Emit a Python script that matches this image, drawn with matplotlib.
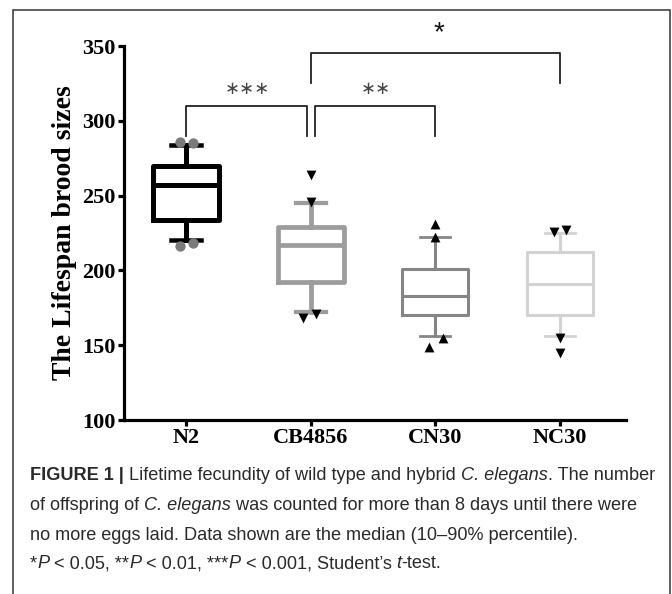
import matplotlib
matplotlib.use("Agg")
import matplotlib.pyplot as plt
from matplotlib.patches import Rectangle

# data
groups = ["N2", "CB4856", "CN30", "NC30"]
q1 = [234, 192, 170, 170]
med = [257, 217, 183, 191]
q3 = [270, 229, 201, 212]
whislo = [220, 172, 156, 156]
whishi = [284, 245, 222, 225]
outliers = [[286, 285, 216, 218],
            [264, 246, 168, 171],
            [231, 222, 149, 155],
            [226, 227, 155, 145]]
# horizontal jitter of the outlier symbols (layout only)
jitter = [[-0.05, 0.05, -0.05, 0.05],
          [0.0, 0.0, -0.06, 0.04],
          [0.0, 0.0, -0.05, 0.06],
          [-0.05, 0.05, 0.0, 0.0]]
colors = ["#000000", "#9c9c9c", "#858585", "#d2d2d2"]
lws = [3.6, 3.4, 2.2, 2.2]
markers = ["o", "v", "^", "v"]
mcolors = ["#7a7a7a", "k", "k", "k"]

fig = plt.figure(figsize=(6.72, 5.94), dpi=100)
ax = fig.add_axes([124 / 672, 1 - 420 / 594, 502 / 672, 374 / 594])

stats = []
for i in range(len(groups)):
    stats.append(dict(q1=q1[i], med=med[i], q3=q3[i],
                      whislo=whislo[i], whishi=whishi[i], fliers=[]))

for i in range(len(groups)):
    c = colors[i]
    lw = lws[i]
    ax.bxp([stats[i]], positions=[i], widths=0.53, showfliers=False,
           boxprops=dict(color=c, linewidth=lw),
           medianprops=dict(color=c, linewidth=lw),
           whiskerprops=dict(color=c, linewidth=lw),
           capprops=dict(color=c, linewidth=lw * 0.9),
           capwidths=0.24)
    xs = [i + d for d in jitter[i]]
    ax.scatter(xs, outliers[i], marker=markers[i], s=55 if markers[i] == "o" else 50,
               color=mcolors[i], zorder=5, linewidths=0)

ax.set_xlim(-0.5, 3.53)
ax.set_ylim(100, 350)
ax.set_yticks([100, 150, 200, 250, 300, 350])
ax.set_xticks(range(len(groups)))
ax.set_xticklabels(groups)
for s in ["top", "right"]:
    ax.spines[s].set_visible(False)
for s in ["left", "bottom"]:
    ax.spines[s].set_linewidth(2.3)
ax.tick_params(axis="both", width=2.3, length=4, pad=2)
for lab in ax.get_xticklabels() + ax.get_yticklabels():
    lab.set_fontfamily("Liberation Serif")
    lab.set_fontweight("bold")
    lab.set_fontsize(16)
ax.set_ylabel("The Lifespan brood sizes", fontfamily="Liberation Serif",
              fontweight="bold", fontsize=20, labelpad=4)

# significance brackets
bk = dict(color="#222222", linewidth=1.3, clip_on=False)
ax.plot([0, 0, 0.97, 0.97], [290, 310, 310, 290], **bk)
ax.plot([1.03, 1.03, 2.0, 2.0], [290, 310, 310, 290], **bk)
ax.plot([1.0, 1.0, 3.0, 3.0], [325, 345.5, 345.5, 325], **bk)
ax.text(0.49, 321, "\u2217\u2217\u2217", ha="center", va="center", fontsize=13,
        color="#444444", fontfamily="DejaVu Sans")
ax.text(1.52, 321, "\u2217\u2217", ha="center", va="center", fontsize=13,
        color="#444444", fontfamily="DejaVu Sans")
ax.text(2.03, 358.5, "*", ha="center", va="center", fontsize=20,
        color="#111111", fontfamily="Liberation Sans", clip_on=False)

# frame around the figure panel
fig.patches.append(Rectangle((13 / 672, -0.05), (670 - 13) / 672, 1.05 - 10 / 594,
                             transform=fig.transFigure, fill=False,
                             edgecolor="#444444", linewidth=1.2))

# caption with mixed styles
cap_lines = [
    [("FIGURE 1 | ", "normal", "bold"), ("Lifetime fecundity of wild type and hybrid ", "normal", "normal"),
     ("C. elegans", "italic", "normal"), (". The number", "normal", "normal")],
    [("of offspring of ", "normal", "normal"), ("C. elegans", "italic", "normal"),
     (" was counted for more than 8 days until there were", "normal", "normal")],
    [("no more eggs laid. Data shown are the median (10\u201390% percentile).", "normal", "normal")],
    [("*", "normal", "normal"), ("P", "italic", "normal"), (" < 0.05, **", "normal", "normal"),
     ("P", "italic", "normal"), (" < 0.01, ***", "normal", "normal"), ("P", "italic", "normal"),
     (" < 0.001, Student\u2019s ", "normal", "normal"), ("t", "italic", "normal"),
     ("-test.", "normal", "normal")],
]
cap_y = [476, 506, 535, 564]
renderer = fig.canvas.get_renderer()
W = fig.bbox.width


def draw_line(parts, yy, size):
    x = 30 / W
    texts = []
    for txt, style, weight in parts:
        t = fig.text(x, 1 - yy / 594, txt, fontsize=size, fontfamily="Liberation Sans",
                     fontstyle=style, fontweight=weight, color="#2a2a2a", va="center")
        x += t.get_window_extent(renderer).width / W
        texts.append(t)
    return texts, x * W


# fit the first caption line to the reference width
tmp, right = draw_line(cap_lines[0], cap_y[0], 12)
for t in tmp:
    t.remove()
cap_size = 12 * (654 - 30) / (right - 30)

for parts, yy in zip(cap_lines, cap_y):
    draw_line(parts, yy, cap_size)

fig.savefig("out.png", dpi=100)
